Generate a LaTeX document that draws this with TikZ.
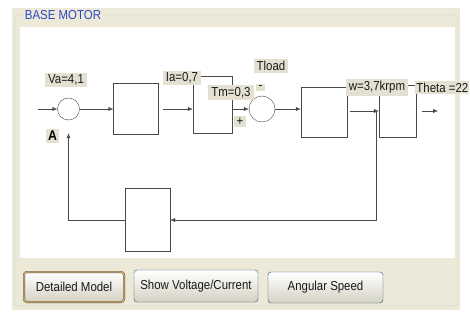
\documentclass[tikz,border=0pt]{standalone}
\usepackage{fontspec}
\setmainfont{Liberation Sans}[FakeStretch=0.88]
\usetikzlibrary{arrows.meta,positioning,shapes}
\usepackage{xcolor}

\definecolor{xpbeige}{HTML}{ECE9D8}
\definecolor{labelbg}{HTML}{E4E1D3}
\definecolor{frameline}{HTML}{D0D0BF}
\definecolor{titleblue}{HTML}{2D48C4}
\definecolor{btnborder}{HTML}{1C4A7A}
\definecolor{btnorange}{HTML}{F0B050}
\definecolor{wire}{HTML}{4A4A4A}
\newcommand{\guifont}{\fontsize{13}{15}\selectfont}

\tikzset{
  blk/.style={draw=wire, fill=white, inner sep=0pt},
  sumnode/.style={circle, draw=wire, fill=white, inner sep=0pt},
  lbl/.style={fill=labelbg, text=black!90, inner xsep=3pt, inner ysep=2pt, font=\guifont},
  btn/.style={draw=btnborder, rounded corners=3pt, top color=white, bottom color=black!10!xpbeige, font=\guifont, text=black!90}
}

\begin{document}
\begin{tikzpicture}[x=1pt, y=-1pt, >={Latex[length=5pt,width=4pt]}, thin]
  \useasboundingbox (0,0) rectangle (470,320);
  % Fondo
  \fill[white] (0,0) rectangle (470,320);
  \fill[xpbeige] (12,8) rectangle (460,310);
  \draw[frameline, rounded corners=3pt] (15,15) rectangle (458,306);
  \fill[white] (20,27) rectangle (455,258);
  \node[fill=xpbeige, text=titleblue, inner sep=1.5pt, font=\guifont] (title) at (63,15) {BASE MOTOR};

  % Bloques
  \node[sumnode, minimum size=22pt] (s1) at (68.5,109) {};
  \node[blk, minimum width=45pt, minimum height=51pt] (b1) at (136,108.5) {};
  \node[blk, minimum width=39pt, minimum height=57pt] (b2) at (212.5,104.5) {};
  \node[sumnode, minimum size=26pt] (s2) at (262,109) {};
  \node[blk, minimum width=46pt, minimum height=50pt] (b3) at (324,112) {};
  \node[blk, minimum width=37pt, minimum height=52pt] (b4) at (397.5,111) {};
  \node[blk, minimum width=45pt, minimum height=63pt] (fb) at (147.5,220) {};
  \coordinate (in) at (38,109);
  \coordinate (out) at (438,111);
  \coordinate (br) at (376,111);

  % Conexiones
  \draw[wire, ->] (in) -- (s1);
  \draw[wire, ->] (s1) -- (s1 -| b1.west);
  \draw[wire, ->, shorten <=4pt] (b1.east |- s1) -- (s1 -| b2.west);
  \draw[wire, ->] (b2.east |- s2) -- (s2);
  \draw[wire, ->] (s2) -- (s2 -| b3.west);
  \draw[wire, ->, shorten <=3pt] (b3.east |- b4) -- (b4);
  \draw[wire, ->, shorten <=6pt] (b4) -- (out);
  \draw[wire, ->] (br) |- (fb);
  \draw[wire, ->, shorten >=13pt] (fb) -| (s1);

  % Etiquetas
  \node[lbl] (va) at (66,80) {Va=4,1};
  \node[lbl, font=\fontsize{14}{16}\selectfont\bfseries, text=black, inner sep=2pt] (ptA) at (52.5,136) {A};
  \node[lbl] (ia) at (182,78) {Ia=0,7};
  \node[lbl] (tm) at (231,92.5) {Tm=0,3};
  \node[lbl] (plus) at (240,121.5) {+};
  \node[lbl] (tload) at (271,66) {Tload};
  \node[lbl] (minus) at (260.5,87.5) {-};
  \node[lbl] (w) at (377,87.5) {w=3,7krpm};
  \node[lbl, anchor=east, inner xsep=1pt] (theta) at (469.5,87.5) {Theta =22};

  % Botones
  \node[btn, draw=btnborder, double=btnorange, double distance=1.2pt, minimum width=100pt, minimum height=30pt] (detail) at (74,287) {Detailed Model};
  \node[btn, minimum width=124pt, minimum height=32pt] (showvi) at (196,286) {Show Voltage/Current};
  \node[btn, minimum width=115pt, minimum height=31pt] (speed) at (325.5,287.5) {Angular Speed};
\end{tikzpicture}
\end{document}
